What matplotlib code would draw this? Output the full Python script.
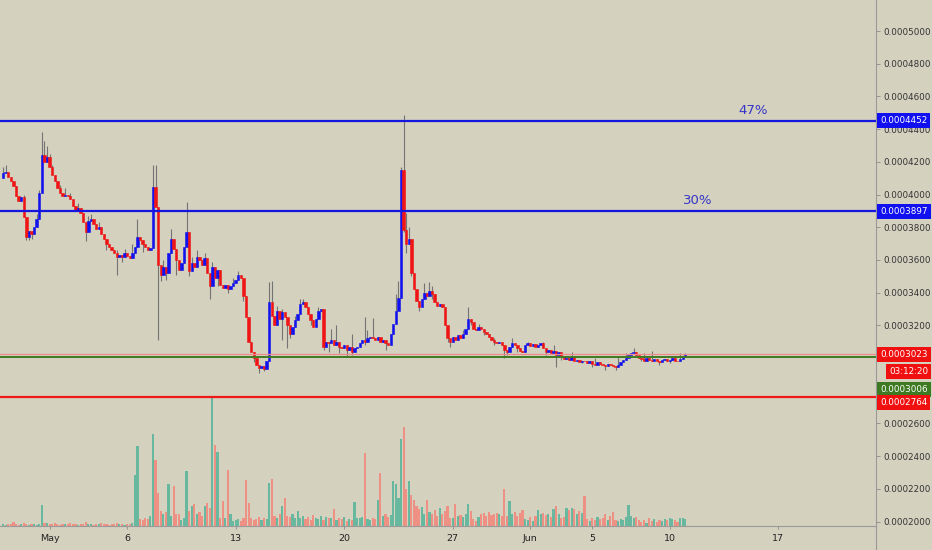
import numpy as np
import matplotlib.pyplot as plt
from matplotlib.lines import Line2D
from matplotlib.transforms import blended_transform_factory

# 4h candles, prices in units of 1e-7 (4130 -> 0.0004130)
SCALE = 1e-7
first_open = 4100
closes = [
    4130, 4140, 4110, 4080, 4050, 3990, 3960, 3985, 3860, 3740,
    3780, 3760, 3800, 3850, 4010, 4240, 4200, 4230, 4170, 4120,
    4080, 4040, 4010, 3990, 4000, 3990, 3975, 3930, 3900, 3920,
    3890, 3830, 3770, 3840, 3850, 3820, 3790, 3800, 3760, 3730,
    3700, 3680, 3660, 3640, 3620, 3630, 3620, 3640, 3625, 3610,
    3640, 3680, 3740, 3720, 3700, 3680, 3660, 3675, 4045, 3925,
    3570, 3510, 3560, 3520, 3640, 3730, 3670, 3600, 3540, 3580,
    3680, 3770, 3530, 3580, 3560, 3620, 3600, 3570, 3610, 3520,
    3440, 3560, 3490, 3540, 3450, 3430, 3445, 3420, 3440, 3460,
    3480, 3510, 3490, 3380, 3250, 3100, 3040, 3000, 2960, 2940,
    2950, 2935, 2980, 3340, 3260, 3200, 3290, 3240, 3280, 3250,
    3200, 3150, 3190, 3230, 3270, 3330, 3340, 3310, 3270, 3230,
    3190, 3240, 3290, 3300, 3070, 3100, 3090, 3110, 3080, 3100,
    3070, 3060, 3080, 3050, 3070, 3040, 3060, 3070, 3090, 3110,
    3100, 3120, 3130, 3120, 3110, 3130, 3100, 3110, 3090, 3080,
    3150, 3210, 3290, 3370, 4150, 3783, 3700, 3730, 3520, 3420,
    3350, 3310, 3360, 3400, 3380, 3410, 3390, 3340, 3320, 3330,
    3310, 3200, 3120, 3100, 3130, 3110, 3140, 3120, 3150, 3180,
    3240, 3220, 3180, 3170, 3190, 3180, 3160, 3150, 3130, 3110,
    3100, 3090, 3100, 3080, 3050, 3040, 3070, 3090, 3080, 3060,
    3045, 3040, 3080, 3090, 3075, 3085, 3070, 3080, 3090, 3060,
    3040, 3050, 3030, 3045, 3020, 3040, 3010, 2995, 3000, 2990,
    3005, 2985, 2990, 2975, 2985, 2980, 2970, 2985, 2965, 2960,
    2975, 2965, 2955, 2950, 2965, 2960, 2950, 2945, 2960, 2975,
    2990, 3000, 3020, 3030, 3040, 3020, 3000, 2995, 2985, 3000,
    2990, 2980, 2995, 2985, 2975, 2990, 2995, 2980, 2990, 3000,
    2985, 2980, 2995, 3005, 3023,
]
# visible wick tips (candle index -> price)
wick_high = {
    0: 4170, 1: 4180, 8: 4000, 13: 3880, 14: 4030, 15: 4382, 16: 4330,
    17: 4300, 18: 4250, 19: 4180, 22: 4060, 24: 4040, 26: 4010, 29: 3950,
    33: 3870, 34: 3880, 37: 3830, 44: 3660, 47: 3670, 50: 3700, 52: 3850,
    58: 4180, 59: 4180, 62: 3600, 65: 3790, 71: 3955, 73: 3620, 75: 3660,
    78: 3640, 81: 3590, 89: 3490, 91: 3530, 103: 3465, 104: 3470,
    106: 3320, 108: 3300, 113: 3260, 115: 3360, 116: 3360, 122: 3310,
    127: 3180, 129: 3200, 135: 3150, 140: 3250, 141: 3170, 143: 3245,
    152: 3390, 153: 3470, 154: 4170, 155: 4486, 156: 3890, 157: 3800,
    163: 3460, 165: 3465, 166: 3440, 172: 3160, 178: 3170, 180: 3312,
    184: 3210, 190: 3120, 197: 3120, 203: 3100, 209: 3100, 213: 3080,
    220: 3040, 229: 3000, 238: 3010, 241: 3030, 244: 3061, 248: 3030,
    251: 3045, 262: 3030, 264: 3030,
}
wick_low = {
    9: 3720, 10: 3720, 11: 3730, 32: 3715, 40: 3660, 44: 3508, 46: 3590,
    54: 3650, 60: 3110, 61: 3470, 63: 3480, 67: 3508, 72: 3500, 80: 3360,
    83: 3440, 87: 3400, 93: 3350, 97: 2975, 99: 2910, 101: 2920,
    103: 2985, 108: 3110, 110: 3061, 111: 3120, 119: 3200, 124: 3050,
    126: 3040, 130: 3030, 133: 3010, 135: 3020, 140: 3080, 148: 3050,
    155: 3770, 156: 3640, 158: 3500, 161: 3290, 166: 3360, 172: 3100,
    173: 3070, 181: 3200, 186: 3140, 190: 3080, 194: 3000, 195: 3020,
    199: 3040, 210: 3020, 214: 2945, 216: 2990, 224: 2970, 228: 2945,
    233: 2930, 237: 2930, 247: 2980, 254: 2960, 258: 2970,
}
volumes = [
    2, 1, 2, 2, 4, 2, 1, 2, 3, 2,
    1, 2, 2, 1, 2, 21, 3, 3, 2, 2,
    3, 2, 1, 2, 2, 2, 3, 2, 2, 1,
    2, 2, 4, 2, 2, 1, 2, 2, 3, 2,
    2, 1, 2, 2, 3, 2, 2, 1, 2, 2,
    3, 51, 80, 7, 6, 8, 7, 10, 92, 66,
    33, 15, 12, 14, 42, 10, 40, 12, 12, 6,
    8, 55, 15, 20, 22, 12, 14, 10, 20, 23,
    18, 130, 81, 74, 8, 25, 8, 56, 12, 5,
    6, 7, 5, 8, 46, 23, 8, 6, 7, 9,
    6, 8, 7, 43, 47, 10, 8, 12, 20, 28,
    10, 9, 12, 8, 15, 8, 10, 7, 9, 6,
    11, 8, 7, 10, 6, 9, 8, 8, 17, 6,
    8, 7, 9, 5, 7, 6, 24, 8, 8, 9,
    73, 7, 6, 8, 7, 26, 53, 10, 12, 9,
    11, 45, 42, 28, 87, 99, 37, 45, 31, 26,
    20, 17, 19, 12, 26, 14, 12, 16, 10, 18,
    12, 15, 20, 8, 8, 22, 10, 11, 9, 12,
    22, 15, 7, 5, 9, 12, 13, 10, 14, 11,
    12, 13, 12, 10, 37, 10, 25, 12, 14, 10,
    13, 16, 7, 6, 9, 5, 10, 16, 12, 13,
    11, 12, 9, 17, 20, 12, 8, 9, 18, 16,
    18, 17, 12, 15, 13, 30, 7, 5, 8, 6,
    9, 7, 8, 12, 6, 10, 14, 6, 5, 7,
    6, 9, 21, 10, 8, 9, 6, 4, 6, 3,
    8, 5, 7, 4, 6, 5, 7, 6, 8, 7,
    6, 4, 8, 8, 7,
]

start_day = -3.0  # day 0 = May 1
date_ticks = [0, 5, 12, 19, 26, 31, 35, 40, 47]
date_labels = ['May', '6', '13', '20', '27', 'Jun', '5', '10', '17']
price_ticks = [2000, 2200, 2400, 2600, 2800, 3000, 3200, 3400, 3600,
               3800, 4000, 4200, 4400, 4600, 4800, 5000]
hidden_ticks = [2800, 3000]  # covered by the price boxes on the scale

level_47 = 4452
level_30 = 3897
last_price = 3023
green_level = 3006
red_level = 2764
countdown = '03:12:20'

bg = '#d4d1bf'
up_col = '#1212ee'
down_col = '#f01414'

c = np.array(closes, dtype=float)
n = len(c)
o = np.r_[first_open, c[:-1]]
hi = np.maximum(o, c)
lo = np.minimum(o, c)
for i, v in wick_high.items():
    hi[i] = max(hi[i], v)
for i, v in wick_low.items():
    lo[i] = min(lo[i], v)
t = start_day + np.arange(n) / 6.0
up = c >= o

fig = plt.figure(figsize=(9.32, 5.5), dpi=100, facecolor=bg)
ax = fig.add_axes([0, 24 / 550, 876 / 932, 526 / 550])
ax2 = ax.twinx()
ax.set_zorder(2)
ax2.set_zorder(1)
ax.patch.set_visible(False)
ax2.patch.set_visible(False)

# volume
vcols = np.where(up, '#68b89f', '#ee9084')
ax2.bar(t, volumes, width=0.14, color=vcols, linewidth=0)
ax2.set_ylim(0, 526)
ax2.set_yticks([])
for s in ax2.spines.values():
    s.set_visible(False)

# candles
ax.vlines(t, lo * SCALE, hi * SCALE, color='#747474', lw=0.8, zorder=2)
ccols = np.where(up, up_col, down_col)
ax.bar(t, (c - o) * SCALE, bottom=o * SCALE, width=0.155, color=ccols,
       edgecolor=ccols, linewidth=0.4, zorder=3)

# levels
ax.axhline(level_47 * SCALE, color='#1515e0', lw=1.6, zorder=4)
ax.axhline(level_30 * SCALE, color='#1515e0', lw=1.6, zorder=4)
ax.axhline(last_price * SCALE, color='#f08a8a', lw=0.9, zorder=4)
ax.axhline(green_level * SCALE, color='#3f7a22', lw=1.4, zorder=4)
ax.axhline(red_level * SCALE, color='#f01818', lw=1.6, zorder=4)

ax.annotate('47%', xy=(45.4, level_47 * SCALE), xytext=(0, 3), textcoords='offset points',
            ha='center', va='bottom', fontsize=9.5, color='#3434c8')
ax.annotate('30%', xy=(41.8, level_30 * SCALE), xytext=(0, 3), textcoords='offset points',
            ha='center', va='bottom', fontsize=9.5, color='#3434c8')

ax.set_xlim(-3.2, 53.3)
ax.set_ylim(1973 * SCALE, 5190 * SCALE)

ax.yaxis.tick_right()
ax.set_yticks([p * SCALE for p in price_ticks])
ax.set_yticklabels(['' if p in hidden_ticks else f'{p * SCALE:.7f}' for p in price_ticks])
ax.tick_params(axis='y', labelsize=6.3, labelcolor='#333333', color='#8a8a8a',
               length=3, width=0.6, pad=2)
ax.set_xticks(date_ticks)
ax.set_xticklabels(date_labels)
ax.tick_params(axis='x', labelsize=6.8, labelcolor='#222222', color='#8a8a8a',
               length=2, width=0.6, pad=4)
for side in ['top', 'left', 'right']:
    ax.spines[side].set_visible(False)
ax.spines['bottom'].set_color('#9a9a9a')
ax.spines['bottom'].set_linewidth(0.8)

fig.add_artist(Line2D([876 / 932, 876 / 932], [0, 1], transform=fig.transFigure,
                      color='#9a9a9a', lw=0.8))

# price labels on the scale
trans = blended_transform_factory(ax.transAxes, ax.transData)
PT = 0.72  # points per pixel


def price_box(price, text, fc, dy_px=0):
    ax.annotate(text, xy=(1, price * SCALE), xycoords=trans,
                xytext=(4 * PT, -dy_px * PT), textcoords='offset points',
                ha='left', va='center', fontsize=6.3, color='white',
                bbox=dict(boxstyle='square,pad=0.35', fc=fc, ec='none'),
                annotation_clip=False, zorder=10)


price_box(level_47, f'{level_47 * SCALE:.7f}', '#1010f0')
price_box(level_30, f'{level_30 * SCALE:.7f}', '#1010f0')
price_box(last_price, f'{last_price * SCALE:.7f}', '#f01010')
price_box(green_level, f'{green_level * SCALE:.7f}', '#3d7a22', dy_px=32)
price_box(red_level, f'{red_level * SCALE:.7f}', '#f01010', dy_px=6)
ax.annotate(countdown, xy=(1, last_price * SCALE), xycoords=trans,
            xytext=(52 * PT, -17 * PT), textcoords='offset points',
            ha='right', va='center', fontsize=6.3, color='white',
            bbox=dict(boxstyle='square,pad=0.35', fc='#f01010', ec='none'),
            annotation_clip=False, zorder=10)

fig.savefig('out.png', dpi=100, facecolor=bg)
